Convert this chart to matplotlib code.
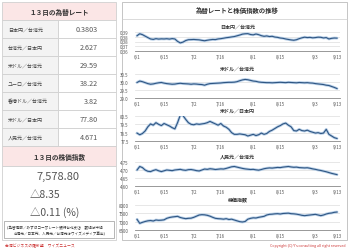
import numpy as np
import pandas as pd
import matplotlib
matplotlib.use('Agg')
from matplotlib import pyplot as plt
from matplotlib.patches import Rectangle

plt.rcParams['font.family'] = ['Noto Sans CJK JP', 'DejaVu Sans']

# ---- data ----
dates = pd.bdate_range('2012-06-01', '2012-09-13')
date_ticks = ['6/1', '6/15', '7/2', '7/16', '8/1', '8/15', '9/3', '9/13']

rate_names = ['日本円／台湾元', '台湾元／日本円', '米ドル／台湾元', 'ユーロ／台湾元',
              '香港ドル／台湾元', '米ドル／日本円', '人民元／台湾元']
rate_values = ['0.3803', '2.627', '29.59', '38.22', '3.82', '77.80', '4.671']

index_close = '7,578.80'
index_change = '△8.35'
index_pct = '△0.11 (%)'

jpy_twd = [0.3841, 0.3872, 0.3858, 0.3835, 0.3812, 0.3790, 0.3783, 0.3795, 0.3788, 0.3792,
           0.3790, 0.3794, 0.3788, 0.3796, 0.3790, 0.3752, 0.3728, 0.3740, 0.3765, 0.3778,
           0.3780, 0.3782, 0.3779, 0.3776, 0.3768, 0.3762, 0.3770, 0.3777, 0.3782, 0.3780,
           0.3790, 0.3795, 0.3802, 0.3810, 0.3815, 0.3822, 0.3828, 0.3840, 0.3852, 0.3866,
           0.3872, 0.3874, 0.3860, 0.3855, 0.3868, 0.3858, 0.3842, 0.3832, 0.3838, 0.3828,
           0.3832, 0.3820, 0.3815, 0.3805, 0.3800, 0.3790, 0.3782, 0.3775, 0.3770, 0.3778,
           0.3795, 0.3808, 0.3818, 0.3812, 0.3815, 0.3808, 0.3812, 0.3818, 0.3816, 0.3806,
           0.3812, 0.3790, 0.3800, 0.3805, 0.3803]

usd_twd = [29.97, 30.06, 30.02, 29.96, 29.90, 29.86, 29.88, 29.92, 29.95, 29.97,
           29.93, 29.90, 29.88, 29.86, 29.87, 29.90, 29.92, 29.90, 29.89, 29.88,
           29.86, 29.88, 29.87, 29.85, 29.84, 29.80, 29.86, 29.90, 29.91, 29.92,
           29.93, 29.94, 29.96, 29.97, 29.98, 29.98, 29.99, 30.02, 30.08, 30.13,
           30.16, 30.14, 30.10, 30.06, 30.04, 30.00, 29.98, 29.97, 29.96, 29.96,
           29.95, 29.96, 29.97, 29.98, 29.97, 29.96, 29.98, 29.97, 29.96, 29.95,
           29.97, 29.96, 29.95, 29.96, 29.94, 29.93, 29.90, 29.88, 29.86, 29.84,
           29.80, 29.78, 29.72, 29.66, 29.59]

usd_jpy = [78.45, 78.25, 78.40, 78.70, 79.20, 79.55, 79.40, 79.70, 79.50, 79.35,
           79.60, 79.45, 79.30, 79.10, 78.95, 79.70, 80.60, 80.55, 80.10, 79.70,
           79.50, 79.45, 79.55, 79.50, 79.55, 79.60, 79.70, 79.85, 79.70, 79.55,
           79.40, 79.60, 79.30, 79.15, 78.90, 78.50, 78.30, 78.30, 78.35, 78.30,
           78.25, 78.10, 78.20, 78.30, 78.15, 78.25, 78.45, 78.30, 78.40, 78.65,
           78.80, 79.00, 79.20, 79.35, 79.55, 79.65, 79.40, 79.20, 78.75, 78.70,
           78.90, 78.75, 78.70, 78.80, 78.65, 78.55, 78.45, 78.50, 78.40, 78.45,
           78.90, 78.30, 78.10, 77.90, 77.80]

cny_twd = [4.700, 4.722, 4.715, 4.700, 4.692, 4.690, 4.697, 4.702, 4.695, 4.690,
           4.695, 4.700, 4.698, 4.696, 4.700, 4.702, 4.704, 4.700, 4.698, 4.702,
           4.703, 4.700, 4.696, 4.694, 4.700, 4.706, 4.704, 4.708, 4.706, 4.703,
           4.705, 4.707, 4.706, 4.710, 4.715, 4.720, 4.722, 4.718, 4.714, 4.710,
           4.707, 4.705, 4.703, 4.704, 4.701, 4.699, 4.703, 4.708, 4.711, 4.713,
           4.712, 4.714, 4.716, 4.715, 4.718, 4.720, 4.722, 4.719, 4.717, 4.718,
           4.715, 4.714, 4.713, 4.714, 4.711, 4.707, 4.704, 4.700, 4.697, 4.693,
           4.689, 4.684, 4.679, 4.675, 4.671]

taiex = [7140, 6900, 6960, 7010, 7050, 7070, 7040, 7100, 7080, 7090,
         7110, 7200, 7250, 7280, 7300, 7320, 7250, 7210, 7180, 7200,
         7210, 7260, 7330, 7400, 7420, 7410, 7380, 7330, 7260, 7200,
         7180, 7170, 7150, 7180, 7130, 7150, 7100, 7050, 7000, 6980,
         7010, 7150, 7200, 7230, 7220, 7260, 7290, 7320, 7400, 7440,
         7450, 7470, 7480, 7460, 7490, 7500, 7510, 7480, 7470, 7450,
         7420, 7380, 7360, 7380, 7400, 7420, 7440, 7400, 7360, 7400,
         7460, 7500, 7520, 7560, 7579]

chart_titles = ['日本円／台湾元', '米ドル／台湾元', '米ドル／日本円', '人民元／台湾元', '株価指数']
series = [jpy_twd, usd_twd, usd_jpy, cny_twd, taiex]
yticks = [[0.36, 0.3675, 0.375, 0.3825, 0.39], [29.0, 29.5, 30.0, 30.5],
          [77.5, 78.5, 79.5, 80.5], [4.60, 4.65, 4.70, 4.75], [6500, 7000, 7500, 8000]]
ytick_labels = [['0.36', '0.37', '0.38', '0.38', '0.39'], ['29.0', '29.5', '30.0', '30.5'],
                ['77.5', '78.5', '79.5', '80.5'], ['4.60', '4.65', '4.70', '4.75'],
                ['6500', '7000', '7500', '8000']]

# ---- figure ----
W, H = 350, 251
fig = plt.figure(figsize=(W / 100, H / 100), dpi=100)
fig.patch.set_facecolor('white')

def box(x0, y0, x1, y1):
    return [x0 / W, 1 - y1 / H, (x1 - x0) / W, (y1 - y0) / H]

ov = fig.add_axes([0, 0, 1, 1])
ov.set_xlim(0, W)
ov.set_ylim(H, 0)
ov.axis('off')

line_c = '#d0d0d0'
txt_c = '#444444'
pink = '#fbe6e6'

# left table
ov.add_patch(Rectangle((2, 3), 114, 18, fc=pink, ec=line_c, lw=0.6))
ov.text(59, 12, '１３日の為替レート', ha='center', va='center', fontsize=4.8,
        fontweight='bold', color='#333333')
for i, (n, v) in enumerate(zip(rate_names, rate_values)):
    y0 = 21 + 18 * i
    ov.add_patch(Rectangle((2, y0), 56, 18, fc='#f3f3f3', ec=line_c, lw=0.6))
    ov.add_patch(Rectangle((58, y0), 58, 18, fc='white', ec=line_c, lw=0.6))
    ov.text(8, y0 + 9, n, ha='left', va='center', fontsize=3.6, color=txt_c)
    ov.text(98, y0 + 9, v, ha='right', va='center', fontsize=5.2, color='#555555')

ov.add_patch(Rectangle((2, 147), 114, 20, fc=pink, ec=line_c, lw=0.6))
ov.text(59, 157, '１３日の株価指数', ha='center', va='center', fontsize=4.8,
        fontweight='bold', color='#333333')
ov.add_patch(Rectangle((2, 167), 114, 74, fc='white', ec=line_c, lw=0.6))
ov.text(58, 177, index_close, ha='center', va='center', fontsize=8, color='#555555')
ov.text(30, 195, index_change, ha='left', va='center', fontsize=7.5, color='#555555')
ov.text(30, 213, index_pct, ha='left', va='center', fontsize=7.5, color='#555555')
ov.add_patch(Rectangle((4, 222), 110, 17, fc='white', ec='#999999', lw=0.5))
ov.text(7, 227.5, '(為替情報／みずほコーポレート銀行台北支店　数値は中値', ha='left',
        va='center', fontsize=2.6, color='#333333')
ov.text(14, 234, '台湾元／日本円、人民元／台湾元はワイズメディア算出)', ha='left',
        va='center', fontsize=2.6, color='#333333')
ov.text(5, 246.5, '台湾ビジネスの羅針盤　ワイズニュース', ha='left', va='center',
        fontsize=2.8, color='#cc3333')

# right panel frame
ov.add_patch(Rectangle((122, 3), 225, 238, fc='white', ec='#bbbbbb', lw=0.6))
ov.plot([122, 347], [20, 20], color='#cccccc', lw=0.5)
ov.text(237, 11, '為替レートと株価指数の推移', ha='center', va='center', fontsize=4.6,
        fontweight='bold', color='#333333')
ov.text(345, 246.5, "Copyright (C) Y's consulting all right reserved", ha='right',
        va='center', fontsize=2.6, color='#cc3333')

# charts
x = np.arange(len(dates))
labels_all = [f'{d.month}/{d.day}' for d in dates]
tick_pos = [labels_all.index(t) for t in date_ticks]
plot_tb = [(33, 52), (75, 99), (117, 142), (163, 187), (206, 231)]

for k in range(5):
    top, bot = plot_tb[k]
    ax = fig.add_axes(box(135, top, 340, bot))
    ax.patch.set_alpha(0)
    ax.plot(x, series[k], color='#b9d0e8', lw=2.0, solid_capstyle='round')
    ax.plot(x, series[k], color='#2f5683', lw=0.8)
    ax.set_xlim(-0.75, 75.1)
    ax.set_ylim(yticks[k][0], yticks[k][-1])
    ax.set_yticks(yticks[k])
    ax.set_yticklabels(ytick_labels[k])
    ax.set_xticks(tick_pos)
    ax.set_xticklabels(date_ticks)
    ax.tick_params(length=0, labelsize=3.2, colors='#555555')
    ax.tick_params(axis='y', pad=4.5)
    ax.tick_params(axis='x', pad=2)
    ax.grid(axis='y', color='#dddddd', lw=0.5)
    ax.set_axisbelow(True)
    for s in ['top', 'right', 'left']:
        ax.spines[s].set_visible(False)
    ax.spines['bottom'].set_color('#888888')
    ax.spines['bottom'].set_linewidth(0.6)
    ax.set_title(chart_titles[k], fontsize=3.6, fontweight='bold', color='#333333', pad=3)

fig.savefig('out.png', dpi=100)
